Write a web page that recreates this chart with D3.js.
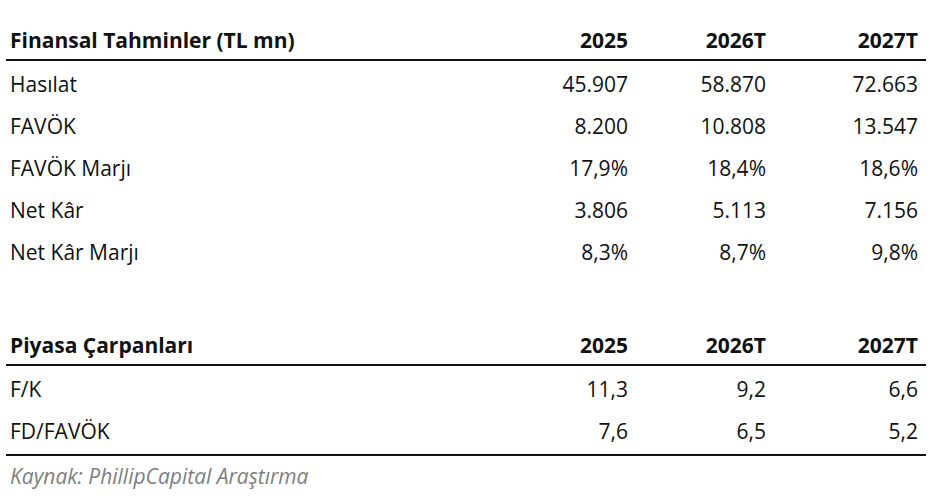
<!DOCTYPE html>
<html><head><meta charset="utf-8">
<script src="https://cdn.jsdelivr.net/npm/d3@7"></script>
<style>body{margin:0;background:#fff}</style>
</head><body>
<svg id="chart"></svg>
<script>
const years = ['2025', '2026T', '2027T'];
const finLabels = ['Hasılat', 'FAVÖK', 'FAVÖK Marjı', 'Net Kâr', 'Net Kâr Marjı'];
const finValues = [
  ['45.907', '58.870', '72.663'],
  ['8.200', '10.808', '13.547'],
  ['17,9%', '18,4%', '18,6%'],
  ['3.806', '5.113', '7.156'],
  ['8,3%', '8,7%', '9,8%']
];
const multLabels = ['F/K', 'FD/FAVÖK'];
const multValues = [
  ['11,3', '9,2', '6,6'],
  ['7,6', '6,5', '5,2']
];
const source = 'Kaynak: PhillipCapital Araştırma';

const W = 932, H = 498;
const svg = d3.select('#chart').attr('width', W).attr('height', H)
  .style('font-family', 'Open Sans, Liberation Sans, Arial, sans-serif');

const colX = d3.scaleOrdinal().domain(years).range([628, 766, 918]);
const left = 10, rowH = 42, fs = '21px';

function block(title, labels, values, top) {
  const g = svg.append('g');
  g.append('text').attr('x', left).attr('y', top).text(title)
    .style('font-weight', 'bold').style('font-size', fs).attr('fill', '#111');
  years.forEach(y => g.append('text').attr('x', colX(y)).attr('y', top)
    .attr('text-anchor', 'end').style('font-weight', 'bold').style('font-size', fs).attr('fill', '#111').text(y));
  g.append('line').attr('x1', 6).attr('x2', 926).attr('y1', top + 12).attr('y2', top + 12)
    .attr('stroke', '#111').attr('stroke-width', 2);
  labels.forEach((lab, i) => {
    const yy = top + 44 + i * rowH;
    g.append('text').attr('x', left).attr('y', yy).style('font-size', fs).attr('fill', '#111').text(lab);
    values[i].forEach((v, j) => g.append('text').attr('x', colX(years[j])).attr('y', yy)
      .attr('text-anchor', 'end').style('font-size', fs).attr('fill', '#111').text(v));
  });
}

block('Finansal Tahminler (TL mn)', finLabels, finValues, 48);
block('Piyasa Çarpanları', multLabels, multValues, 353);

svg.append('line').attr('x1', 6).attr('x2', 926).attr('y1', 455).attr('y2', 455)
  .attr('stroke', '#111').attr('stroke-width', 2);
svg.append('text').attr('x', left).attr('y', 484).style('font-size', fs)
  .style('font-style', 'italic').attr('fill', '#7f7f7f').text(source);
</script>
</body></html>
